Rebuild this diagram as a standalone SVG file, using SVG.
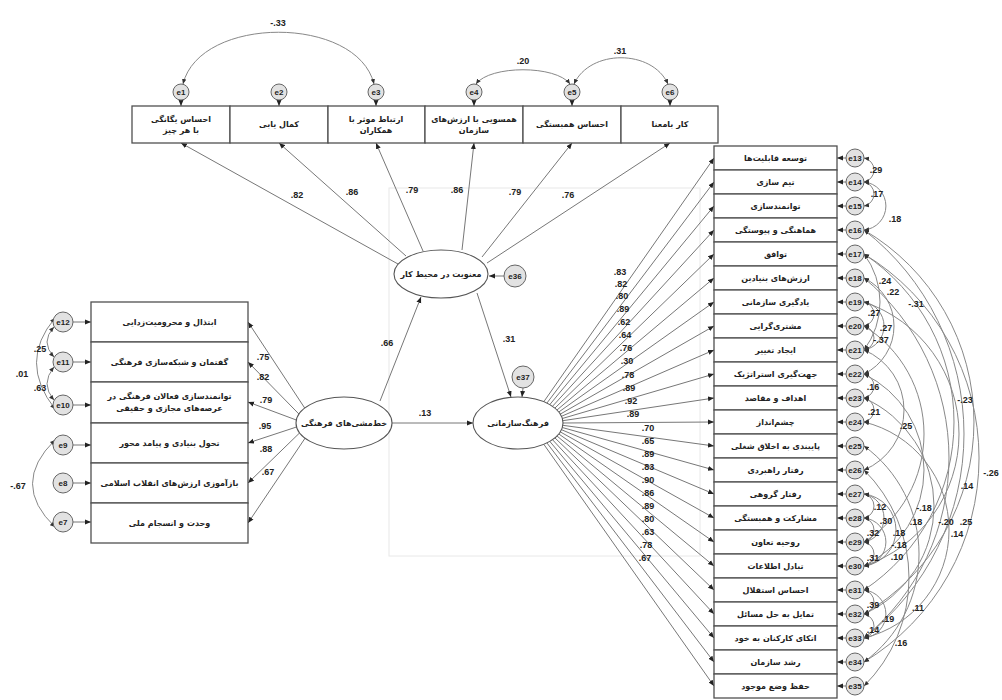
<svg xmlns="http://www.w3.org/2000/svg" width="1002" height="700" viewBox="0 0 1002 700">
<style>
.bx{fill:#fff;stroke:#505050;stroke-width:1.3}
.el{fill:#fff;stroke:#555;stroke-width:1.1}
.er{fill:#e2e2e2;stroke:#666;stroke-width:1}
.ln{fill:none;stroke:#777;stroke-width:1}
.cv{fill:none;stroke:#888;stroke-width:1}
.fa{fill:#222;font-family:"DejaVu Sans",sans-serif;font-size:8px;font-weight:bold;text-anchor:middle}
.et{fill:#222;font-family:"Liberation Sans",sans-serif;font-size:8px;font-weight:bold;text-anchor:middle}
.nm{fill:#222;font-family:"Liberation Sans",sans-serif;font-size:9px;font-weight:bold;text-anchor:middle}
</style>
<defs>
<marker id="ah" markerWidth="6" markerHeight="6" refX="6" refY="3" orient="auto" markerUnits="userSpaceOnUse"><path d="M0,0.5 L6,3 L0,5.5 z" fill="#222"/></marker>
<marker id="ac" markerWidth="5" markerHeight="5" refX="5" refY="2.5" orient="auto-start-reverse" markerUnits="userSpaceOnUse"><path d="M0,0.3 L5,2.5 L0,4.7 z" fill="#333"/></marker>
</defs>
<rect width="1002" height="700" fill="#fff"/>
<rect x="389" y="188" width="311" height="368" fill="none" stroke="#e8e8e8" stroke-width="1"/>

<g id="connectors">
<path class="cv" d="M183,84 C200,15 357,15 374,84" marker-start="url(#ac)" marker-end="url(#ac)"/>
<path class="cv" d="M476,84 C490,65 556,65 570,84" marker-start="url(#ac)" marker-end="url(#ac)"/>
<path class="cv" d="M574,84 C590,49 652,49 668,84" marker-start="url(#ac)" marker-end="url(#ac)"/>
<path class="ln" d="M181,100 L181,106" marker-end="url(#ah)"/>
<path class="ln" d="M279,100 L279,106" marker-end="url(#ah)"/>
<path class="ln" d="M376,100 L376,106" marker-end="url(#ah)"/>
<path class="ln" d="M474,100 L474,106" marker-end="url(#ah)"/>
<path class="ln" d="M572,100 L572,106" marker-end="url(#ah)"/>
<path class="ln" d="M670,100 L670,106" marker-end="url(#ah)"/>
<path class="ln" d="M398,264 L181,143" marker-end="url(#ah)"/>
<path class="ln" d="M406,256 L279,143" marker-end="url(#ah)"/>
<path class="ln" d="M423,251 L376,143" marker-end="url(#ah)"/>
<path class="ln" d="M462,250 L474,143" marker-end="url(#ah)"/>
<path class="ln" d="M482,257 L572,143" marker-end="url(#ah)"/>
<path class="ln" d="M487,263 L670,143" marker-end="url(#ah)"/>
<path class="ln" d="M504,276 L489,276" marker-end="url(#ah)"/>
<path class="ln" d="M523,388 L522,397" marker-end="url(#ah)"/>
<path class="ln" d="M380,401 L421,297" marker-end="url(#ah)"/>
<path class="ln" d="M477,293 L511,397" marker-end="url(#ah)"/>
<path class="ln" d="M392,423 L473,423" marker-end="url(#ah)"/>
<path class="ln" d="M304.7,408 L248,322" marker-end="url(#ah)"/>
<path class="ln" d="M298.9,414 L248,362" marker-end="url(#ah)"/>
<path class="ln" d="M296.3,420 L248,402" marker-end="url(#ah)"/>
<path class="ln" d="M296.5,427 L248,443" marker-end="url(#ah)"/>
<path class="ln" d="M299.5,433 L248,483" marker-end="url(#ah)"/>
<path class="ln" d="M305.2,438 L248,523" marker-end="url(#ah)"/>
<path class="ln" d="M73,322 L91,322" marker-end="url(#ah)"/>
<path class="ln" d="M73,362 L91,362" marker-end="url(#ah)"/>
<path class="ln" d="M73,405 L91,405" marker-end="url(#ah)"/>
<path class="ln" d="M73,445 L91,445" marker-end="url(#ah)"/>
<path class="ln" d="M73,483 L91,483" marker-end="url(#ah)"/>
<path class="ln" d="M73,522 L91,522" marker-end="url(#ah)"/>
<path class="cv" d="M54,327 Q40,342 54,357" marker-start="url(#ac)" marker-end="url(#ac)"/>
<path class="cv" d="M54,367 Q40,384 54,400" marker-start="url(#ac)" marker-end="url(#ac)"/>
<path class="cv" d="M55,318 Q18,362 55,409" marker-start="url(#ac)" marker-end="url(#ac)"/>
<path class="cv" d="M55,440 Q10,484 55,527" marker-start="url(#ac)" marker-end="url(#ac)"/>
<path class="ln" d="M543.8,401.7 L714,158" marker-end="url(#ah)"/>
<path class="ln" d="M546.9,403.1 L714,182" marker-end="url(#ah)"/>
<path class="ln" d="M549.8,404.6 L714,206" marker-end="url(#ah)"/>
<path class="ln" d="M552.5,406.3 L714,230" marker-end="url(#ah)"/>
<path class="ln" d="M554.9,408.1 L714,254" marker-end="url(#ah)"/>
<path class="ln" d="M557,410 L714,278" marker-end="url(#ah)"/>
<path class="ln" d="M558.8,412 L714,302" marker-end="url(#ah)"/>
<path class="ln" d="M560.3,414.1 L714,326" marker-end="url(#ah)"/>
<path class="ln" d="M561.5,416.3 L714,350" marker-end="url(#ah)"/>
<path class="ln" d="M562.3,418.5 L714,374" marker-end="url(#ah)"/>
<path class="ln" d="M562.8,420.7 L714,398" marker-end="url(#ah)"/>
<path class="ln" d="M563,423 L714,422" marker-end="url(#ah)"/>
<path class="ln" d="M562.8,425.3 L714,446" marker-end="url(#ah)"/>
<path class="ln" d="M562.3,427.5 L714,470" marker-end="url(#ah)"/>
<path class="ln" d="M561.5,429.7 L714,494" marker-end="url(#ah)"/>
<path class="ln" d="M560.3,431.9 L714,518" marker-end="url(#ah)"/>
<path class="ln" d="M558.8,434 L714,542" marker-end="url(#ah)"/>
<path class="ln" d="M557,436 L714,566" marker-end="url(#ah)"/>
<path class="ln" d="M554.9,437.9 L714,590" marker-end="url(#ah)"/>
<path class="ln" d="M552.5,439.7 L714,614" marker-end="url(#ah)"/>
<path class="ln" d="M549.8,441.4 L714,638" marker-end="url(#ah)"/>
<path class="ln" d="M546.9,442.9 L714,662" marker-end="url(#ah)"/>
<path class="ln" d="M543.8,444.3 L714,686" marker-end="url(#ah)"/>
<g>
<path class="ln" d="M846,158 L837,158" marker-end="url(#ah)"/>
<path class="ln" d="M846,182 L837,182" marker-end="url(#ah)"/>
<path class="ln" d="M846,206 L837,206" marker-end="url(#ah)"/>
<path class="ln" d="M846,230 L837,230" marker-end="url(#ah)"/>
<path class="ln" d="M846,254 L837,254" marker-end="url(#ah)"/>
<path class="ln" d="M846,278 L837,278" marker-end="url(#ah)"/>
<path class="ln" d="M846,302 L837,302" marker-end="url(#ah)"/>
<path class="ln" d="M846,326 L837,326" marker-end="url(#ah)"/>
<path class="ln" d="M846,350 L837,350" marker-end="url(#ah)"/>
<path class="ln" d="M846,374 L837,374" marker-end="url(#ah)"/>
<path class="ln" d="M846,398 L837,398" marker-end="url(#ah)"/>
<path class="ln" d="M846,422 L837,422" marker-end="url(#ah)"/>
<path class="ln" d="M846,446 L837,446" marker-end="url(#ah)"/>
<path class="ln" d="M846,470 L837,470" marker-end="url(#ah)"/>
<path class="ln" d="M846,494 L837,494" marker-end="url(#ah)"/>
<path class="ln" d="M846,518 L837,518" marker-end="url(#ah)"/>
<path class="ln" d="M846,542 L837,542" marker-end="url(#ah)"/>
<path class="ln" d="M846,566 L837,566" marker-end="url(#ah)"/>
<path class="ln" d="M846,590 L837,590" marker-end="url(#ah)"/>
<path class="ln" d="M846,614 L837,614" marker-end="url(#ah)"/>
<path class="ln" d="M846,638 L837,638" marker-end="url(#ah)"/>
<path class="ln" d="M846,662 L837,662" marker-end="url(#ah)"/>
<path class="ln" d="M846,686 L837,686" marker-end="url(#ah)"/>
</g>
<g marker-start="url(#ac)" marker-end="url(#ac)">
<path class="cv" d="M864,158 A12.2,12.2 0 0 1 864,182"/>
<path class="cv" d="M864,182 A12.2,12.2 0 0 1 864,206"/>
<path class="cv" d="M864,182 A24.1,24.1 0 0 1 864,230"/>
<path class="cv" d="M864,254 A80,80 0 0 1 864,350"/>
<path class="cv" d="M864,278 A53.4,53.4 0 0 1 864,374"/>
<path class="cv" d="M864,230 A258.1,258.1 0 0 1 864,638"/>
<path class="cv" d="M864,302 A12.2,12.2 0 0 1 864,326"/>
<path class="cv" d="M864,326 A12.2,12.2 0 0 1 864,350"/>
<path class="cv" d="M864,302 A24.4,24.4 0 0 1 864,350"/>
<path class="cv" d="M864,374 A12.2,12.2 0 0 1 864,398"/>
<path class="cv" d="M864,398 A12.2,12.2 0 0 1 864,422"/>
<path class="cv" d="M864,350 A65,65 0 0 1 864,470"/>
<path class="cv" d="M864,254 A201.8,201.8 0 0 1 864,590"/>
<path class="cv" d="M864,254 A238.4,238.4 0 0 1 864,662"/>
<path class="cv" d="M864,278 A233.1,233.1 0 0 1 864,638"/>
<path class="cv" d="M864,494 A12.2,12.2 0 0 1 864,518"/>
<path class="cv" d="M864,518 A12.2,12.2 0 0 1 864,542"/>
<path class="cv" d="M864,542 A12.2,12.2 0 0 1 864,566"/>
<path class="cv" d="M864,494 A24.4,24.4 0 0 1 864,542"/>
<path class="cv" d="M864,518 A24.1,24.1 0 0 1 864,566"/>
<path class="cv" d="M864,494 A36.25,36.25 0 0 1 864,566"/>
<path class="cv" d="M864,326 A127.2,127.2 0 0 1 864,542"/>
<path class="cv" d="M864,374 A106.8,106.8 0 0 1 864,566"/>
<path class="cv" d="M864,302 A139.2,139.2 0 0 1 864,566"/>
<path class="cv" d="M864,230 A222.6,222.6 0 0 1 864,614"/>
<path class="cv" d="M864,422 A111.1,111.1 0 0 1 864,638"/>
<path class="cv" d="M864,590 A12.2,12.2 0 0 1 864,614"/>
<path class="cv" d="M864,614 A12.2,12.2 0 0 1 864,638"/>
<path class="cv" d="M864,590 A24.1,24.1 0 0 1 864,638"/>
<path class="cv" d="M864,398 A118.3,118.3 0 0 1 864,614"/>
<path class="cv" d="M864,446 A133.5,133.5 0 0 1 864,662"/>
<path class="cv" d="M864,470 A152.1,152.1 0 0 1 864,686"/>
</g>
</g>

<g id="connector-labels">
<text class="nm" x="278" y="26">-.33</text>
<text class="nm" x="523" y="64">.20</text>
<text class="nm" x="620" y="54">.31</text>
<text class="nm" x="297" y="198">.82</text>
<text class="nm" x="352" y="195">.86</text>
<text class="nm" x="412" y="193">.79</text>
<text class="nm" x="457" y="193">.86</text>
<text class="nm" x="515" y="195">.79</text>
<text class="nm" x="568" y="198">.76</text>
<text class="nm" x="387" y="346">.66</text>
<text class="nm" x="509" y="342">.31</text>
<text class="nm" x="425" y="416">.13</text>
<text class="nm" x="263" y="360">.75</text>
<text class="nm" x="263" y="380">.82</text>
<text class="nm" x="266" y="403">.79</text>
<text class="nm" x="265" y="429">.95</text>
<text class="nm" x="266" y="452">.88</text>
<text class="nm" x="268" y="475">.67</text>
<text class="nm" x="40" y="352">.25</text>
<text class="nm" x="22" y="377">.01</text>
<text class="nm" x="40" y="391">.63</text>
<text class="nm" x="18" y="489">-.67</text>
<text class="nm" x="620" y="275">.83</text>
<text class="nm" x="621" y="287">.82</text>
<text class="nm" x="622" y="299">.80</text>
<text class="nm" x="623" y="312">.89</text>
<text class="nm" x="624" y="325">.62</text>
<text class="nm" x="625" y="338">.64</text>
<text class="nm" x="626" y="351">.76</text>
<text class="nm" x="627" y="364">.30</text>
<text class="nm" x="628" y="378">.78</text>
<text class="nm" x="629" y="391">.89</text>
<text class="nm" x="631" y="404">.92</text>
<text class="nm" x="633" y="417">.89</text>
<text class="nm" x="648" y="431">.70</text>
<text class="nm" x="648" y="444">.65</text>
<text class="nm" x="648" y="457">.89</text>
<text class="nm" x="648" y="470">.83</text>
<text class="nm" x="648" y="483">.90</text>
<text class="nm" x="648" y="496">.86</text>
<text class="nm" x="648" y="509">.89</text>
<text class="nm" x="648" y="522">.80</text>
<text class="nm" x="648" y="535">.63</text>
<text class="nm" x="646" y="548">.78</text>
<text class="nm" x="645" y="561">.67</text>
<text class="nm" x="876" y="173">.29</text>
<text class="nm" x="877" y="197">.17</text>
<text class="nm" x="895" y="222">.18</text>
<text class="nm" x="885" y="284">.24</text>
<text class="nm" x="893" y="295">.22</text>
<text class="nm" x="916" y="307">-.31</text>
<text class="nm" x="874" y="316">.27</text>
<text class="nm" x="886" y="331">.27</text>
<text class="nm" x="881" y="343">-.37</text>
<text class="nm" x="873" y="390">.16</text>
<text class="nm" x="965" y="403">-.23</text>
<text class="nm" x="874" y="415">.21</text>
<text class="nm" x="906" y="429">.25</text>
<text class="nm" x="991" y="476">-.26</text>
<text class="nm" x="967" y="489">.14</text>
<text class="nm" x="880" y="510">.12</text>
<text class="nm" x="924" y="511">-.18</text>
<text class="nm" x="886" y="524">.30</text>
<text class="nm" x="916" y="525">.18</text>
<text class="nm" x="946" y="525">-.20</text>
<text class="nm" x="966" y="525">.25</text>
<text class="nm" x="873" y="536">.32</text>
<text class="nm" x="899" y="536">.18</text>
<text class="nm" x="957" y="537">.14</text>
<text class="nm" x="899" y="548">-.18</text>
<text class="nm" x="873" y="561">.31</text>
<text class="nm" x="897" y="560">.10</text>
<text class="nm" x="873" y="608">.39</text>
<text class="nm" x="918" y="611">.11</text>
<text class="nm" x="888" y="622">.19</text>
<text class="nm" x="873" y="633">.14</text>
<text class="nm" x="901" y="646">.16</text>
</g>

<g id="n-top1"><rect class="bx" x="132" y="106" width="98" height="37"/><text class="fa" x="181" y="122">احساس یگانگی</text><text class="fa" x="181" y="133">با هر چیز</text></g>
<g id="n-top2"><rect class="bx" x="230" y="106" width="98" height="37"/><text class="fa" x="279" y="127">کمال یابی</text></g>
<g id="n-top3"><rect class="bx" x="328" y="106" width="97" height="37"/><text class="fa" x="376" y="122">ارتباط موثر با</text><text class="fa" x="376" y="133">همکاران</text></g>
<g id="n-top4"><rect class="bx" x="425" y="106" width="98" height="37"/><text class="fa" x="474" y="122">همسویی با ارزش‌های</text><text class="fa" x="474" y="133">سازمان</text></g>
<g id="n-top5"><rect class="bx" x="523" y="106" width="98" height="37"/><text class="fa" x="572" y="127">احساس همبستگی</text></g>
<g id="n-top6"><rect class="bx" x="621" y="106" width="97" height="37"/><text class="fa" x="670" y="127">کار بامعنا</text></g>
<g id="e1"><circle class="er" cx="181" cy="92" r="8"/><text class="et" x="181" y="95">e1</text></g>
<g id="e2"><circle class="er" cx="279" cy="92" r="8"/><text class="et" x="279" y="95">e2</text></g>
<g id="e3"><circle class="er" cx="376" cy="92" r="8"/><text class="et" x="376" y="95">e3</text></g>
<g id="e4"><circle class="er" cx="474" cy="92" r="8"/><text class="et" x="474" y="95">e4</text></g>
<g id="e5"><circle class="er" cx="572" cy="92" r="8"/><text class="et" x="572" y="95">e5</text></g>
<g id="e6"><circle class="er" cx="670" cy="92" r="8"/><text class="et" x="670" y="95">e6</text></g>

<g id="lat-spirit"><ellipse class="el" cx="441" cy="274" rx="47" ry="24"/><text class="fa" x="441" y="277">معنویت در محیط کار</text></g>
<g id="e36"><circle class="er" cx="515" cy="276" r="11"/><text class="et" x="515" y="279">e36</text></g>
<g id="lat-policy"><ellipse class="el" cx="344" cy="423" rx="48" ry="26"/><text class="fa" x="344" y="426">خط‌مشی‌های فرهنگی</text></g>
<g id="lat-culture"><ellipse class="el" cx="518" cy="423" rx="45" ry="26"/><text class="fa" x="518" y="426">فرهنگ‌سازمانی</text></g>
<g id="e37"><circle class="er" cx="523" cy="377" r="11"/><text class="et" x="523" y="380">e37</text></g>

<g id="n-left1"><rect class="bx" x="91" y="302" width="157" height="40"/><text class="fa" x="169.5" y="325">ابتذال و محرومیت‌زدایی</text></g>
<g id="n-left2"><rect class="bx" x="91" y="342" width="157" height="40"/><text class="fa" x="169.5" y="365">گفتمان و شبکه‌سازی فرهنگی</text></g>
<g id="n-left3"><rect class="bx" x="91" y="382" width="157" height="41"/><text class="fa" x="169.5" y="399">توانمندسازی فعالان فرهنگی در</text><text class="fa" x="169.5" y="411">عرصه‌های مجازی و حقیقی</text></g>
<g id="n-left4"><rect class="bx" x="91" y="423" width="157" height="40"/><text class="fa" x="169.5" y="446">تحول بنیادی و پیامد محور</text></g>
<g id="n-left5"><rect class="bx" x="91" y="463" width="157" height="40"/><text class="fa" x="169.5" y="486">بازآموزی ارزش‌های انقلاب اسلامی</text></g>
<g id="n-left6"><rect class="bx" x="91" y="503" width="157" height="40"/><text class="fa" x="169.5" y="526">وحدت و انسجام ملی</text></g>
<g id="e12"><circle class="er" cx="63" cy="322" r="10"/><text class="et" x="63" y="325">e12</text></g>
<g id="e11"><circle class="er" cx="63" cy="362" r="10"/><text class="et" x="63" y="365">e11</text></g>
<g id="e10"><circle class="er" cx="63" cy="405" r="10"/><text class="et" x="63" y="408">e10</text></g>
<g id="e9"><circle class="er" cx="63" cy="445" r="10"/><text class="et" x="63" y="448">e9</text></g>
<g id="e8"><circle class="er" cx="63" cy="483" r="10"/><text class="et" x="63" y="486">e8</text></g>
<g id="e7"><circle class="er" cx="63" cy="522" r="10"/><text class="et" x="63" y="525">e7</text></g>

<g id="n-r1"><rect class="bx" x="714" y="146" width="123" height="24"/><text class="fa" x="775.5" y="161">توسعه قابلیت‌ها</text></g>
<g id="n-r2"><rect class="bx" x="714" y="170" width="123" height="24"/><text class="fa" x="775.5" y="185">تیم سازی</text></g>
<g id="n-r3"><rect class="bx" x="714" y="194" width="123" height="24"/><text class="fa" x="775.5" y="209">توانمندسازی</text></g>
<g id="n-r4"><rect class="bx" x="714" y="218" width="123" height="24"/><text class="fa" x="775.5" y="233">هماهنگی و پیوستگی</text></g>
<g id="n-r5"><rect class="bx" x="714" y="242" width="123" height="24"/><text class="fa" x="775.5" y="257">توافق</text></g>
<g id="n-r6"><rect class="bx" x="714" y="266" width="123" height="24"/><text class="fa" x="775.5" y="281">ارزش‌های بنیادین</text></g>
<g id="n-r7"><rect class="bx" x="714" y="290" width="123" height="24"/><text class="fa" x="775.5" y="305">یادگیری سازمانی</text></g>
<g id="n-r8"><rect class="bx" x="714" y="314" width="123" height="24"/><text class="fa" x="775.5" y="329">مشتری‌گرایی</text></g>
<g id="n-r9"><rect class="bx" x="714" y="338" width="123" height="24"/><text class="fa" x="775.5" y="353">ایجاد تغییر</text></g>
<g id="n-r10"><rect class="bx" x="714" y="362" width="123" height="24"/><text class="fa" x="775.5" y="377">جهت‌گیری استراتژیک</text></g>
<g id="n-r11"><rect class="bx" x="714" y="386" width="123" height="24"/><text class="fa" x="775.5" y="401">اهداف و مقاصد</text></g>
<g id="n-r12"><rect class="bx" x="714" y="410" width="123" height="24"/><text class="fa" x="775.5" y="425">چشم‌انداز</text></g>
<g id="n-r13"><rect class="bx" x="714" y="434" width="123" height="24"/><text class="fa" x="775.5" y="449">پایبندی به اخلاق شغلی</text></g>
<g id="n-r14"><rect class="bx" x="714" y="458" width="123" height="24"/><text class="fa" x="775.5" y="473">رفتار راهبردی</text></g>
<g id="n-r15"><rect class="bx" x="714" y="482" width="123" height="24"/><text class="fa" x="775.5" y="497">رفتار گروهی</text></g>
<g id="n-r16"><rect class="bx" x="714" y="506" width="123" height="24"/><text class="fa" x="775.5" y="521">مشارکت و همبستگی</text></g>
<g id="n-r17"><rect class="bx" x="714" y="530" width="123" height="24"/><text class="fa" x="775.5" y="545">روحیه تعاون</text></g>
<g id="n-r18"><rect class="bx" x="714" y="554" width="123" height="24"/><text class="fa" x="775.5" y="569">تبادل اطلاعات</text></g>
<g id="n-r19"><rect class="bx" x="714" y="578" width="123" height="24"/><text class="fa" x="775.5" y="593">احساس استقلال</text></g>
<g id="n-r20"><rect class="bx" x="714" y="602" width="123" height="24"/><text class="fa" x="775.5" y="617">تمایل به حل مسائل</text></g>
<g id="n-r21"><rect class="bx" x="714" y="626" width="123" height="24"/><text class="fa" x="775.5" y="641">اتکای کارکنان به خود</text></g>
<g id="n-r22"><rect class="bx" x="714" y="650" width="123" height="24"/><text class="fa" x="775.5" y="665">رشد سازمان</text></g>
<g id="n-r23"><rect class="bx" x="714" y="674" width="123" height="24"/><text class="fa" x="775.5" y="689">حفظ وضع موجود</text></g>

<g id="e13"><circle class="er" cx="855" cy="158" r="9"/><text class="et" x="855" y="161">e13</text></g>
<g id="e14"><circle class="er" cx="855" cy="182" r="9"/><text class="et" x="855" y="185">e14</text></g>
<g id="e15"><circle class="er" cx="855" cy="206" r="9"/><text class="et" x="855" y="209">e15</text></g>
<g id="e16"><circle class="er" cx="855" cy="230" r="9"/><text class="et" x="855" y="233">e16</text></g>
<g id="e17"><circle class="er" cx="855" cy="254" r="9"/><text class="et" x="855" y="257">e17</text></g>
<g id="e18"><circle class="er" cx="855" cy="278" r="9"/><text class="et" x="855" y="281">e18</text></g>
<g id="e19"><circle class="er" cx="855" cy="302" r="9"/><text class="et" x="855" y="305">e19</text></g>
<g id="e20"><circle class="er" cx="855" cy="326" r="9"/><text class="et" x="855" y="329">e20</text></g>
<g id="e21"><circle class="er" cx="855" cy="350" r="9"/><text class="et" x="855" y="353">e21</text></g>
<g id="e22"><circle class="er" cx="855" cy="374" r="9"/><text class="et" x="855" y="377">e22</text></g>
<g id="e23"><circle class="er" cx="855" cy="398" r="9"/><text class="et" x="855" y="401">e23</text></g>
<g id="e24"><circle class="er" cx="855" cy="422" r="9"/><text class="et" x="855" y="425">e24</text></g>
<g id="e25"><circle class="er" cx="855" cy="446" r="9"/><text class="et" x="855" y="449">e25</text></g>
<g id="e26"><circle class="er" cx="855" cy="470" r="9"/><text class="et" x="855" y="473">e26</text></g>
<g id="e27"><circle class="er" cx="855" cy="494" r="9"/><text class="et" x="855" y="497">e27</text></g>
<g id="e28"><circle class="er" cx="855" cy="518" r="9"/><text class="et" x="855" y="521">e28</text></g>
<g id="e29"><circle class="er" cx="855" cy="542" r="9"/><text class="et" x="855" y="545">e29</text></g>
<g id="e30"><circle class="er" cx="855" cy="566" r="9"/><text class="et" x="855" y="569">e30</text></g>
<g id="e31"><circle class="er" cx="855" cy="590" r="9"/><text class="et" x="855" y="593">e31</text></g>
<g id="e32"><circle class="er" cx="855" cy="614" r="9"/><text class="et" x="855" y="617">e32</text></g>
<g id="e33"><circle class="er" cx="855" cy="638" r="9"/><text class="et" x="855" y="641">e33</text></g>
<g id="e34"><circle class="er" cx="855" cy="662" r="9"/><text class="et" x="855" y="665">e34</text></g>
<g id="e35"><circle class="er" cx="855" cy="686" r="9"/><text class="et" x="855" y="689">e35</text></g>
</svg>
